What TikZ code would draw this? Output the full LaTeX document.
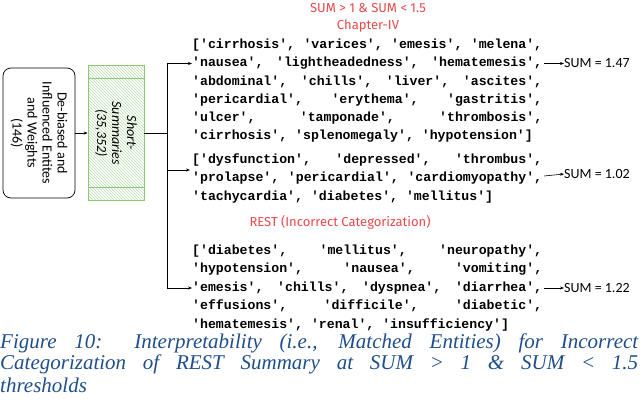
\documentclass[tikz,border=0pt]{standalone}
\usepackage{fontspec}
\setmainfont{Liberation Serif}
\newfontfamily\monof{Liberation Mono}
\newfontfamily\sansf{Carlito}
\newfontfamily\titf{Fira Sans}
\usetikzlibrary{patterns,arrows.meta}
\definecolor{capblue}{HTML}{1F4E8C}
\definecolor{tred}{HTML}{E8484A}
\definecolor{sgreen}{HTML}{8CC878}
\newcommand{\jline}[1]{\makebox[350pt][s]{#1}}
\begin{document}
\begin{tikzpicture}[x=1pt,y=-1pt,
  mono/.style={anchor=west,inner sep=0,font=\monof\bfseries\fontsize{13.2}{13.2}\selectfont},
  tit/.style={text=tred,font=\titf\fontsize{13}{13}\selectfont},
  sumt/.style={anchor=west,inner sep=0,font=\sansf\fontsize{14}{14}\selectfont},
  arr/.style={-{Stealth[length=4pt,width=3pt]},line width=0.6pt},
  captxt/.style={anchor=west,inner sep=0,text=capblue,font=\itshape\fontsize{21}{21}\selectfont}]
\useasboundingbox (0,0) rectangle (640,410);
\node[draw,rounded corners=8pt,line width=0.7pt,minimum width=72pt,minimum height=130pt] (a) at (39,133) {};
\node[rotate=-90,align=center,font=\sansf\fontsize{14}{15}\selectfont] at (a) {De-biased and\\Influenced Entites\\and Weights\\(146)};
\node[draw=sgreen,pattern=north west lines,pattern color=sgreen!60,minimum width=56pt,minimum height=135pt,line width=0.7pt] (g) at (116,133) {};
\draw[sgreen,line width=0.7pt] (88,78)--(144,78) (88,187)--(144,187);
\node[rotate=-90,align=center,font=\sansf\itshape\fontsize{14}{15}\selectfont] at (g) {Short-\\Summaries\\(35,352)};
\draw[arr] (a.east) -- (g.west);
\coordinate (j) at (167,133);
\draw[line width=0.6pt] (g.east) -- (j);
\node[tit] at (368,8) {SUM > 1 \& SUM < 1.5};
\node[tit] at (368,26) {Chapter-IV};
\node[mono] (l1) at (192,45) {\jline{['cirrhosis', 'varices', 'emesis', 'melena',}};
\node[mono] (l2) at (192,63.5) {\jline{'nausea', 'lightheadedness', 'hematemesis',}};
\node[mono] at (192,82) {\jline{'abdominal', 'chills', 'liver', 'ascites',}};
\node[mono] at (192,100) {\jline{'pericardial', 'erythema', 'gastritis',}};
\node[mono] at (192,118) {\jline{'ulcer', 'tamponade', 'thrombosis',}};
\node[mono] at (192,136) {\makebox[350pt][l]{'cirrhosis', 'splenomegaly', 'hypotension']}};
\node[mono] (m1) at (192,160) {\jline{['dysfunction', 'depressed', 'thrombus',}};
\node[mono] (m2) at (192,178.5) {\jline{'prolapse', 'pericardial', 'cardiomyopathy',}};
\node[mono] at (192,197) {\makebox[350pt][l]{'tachycardia', 'diabetes', 'mellitus']}};
\node[tit] at (340,222) {REST (Incorrect Categorization)};
\node[mono] at (192,251) {\jline{['diabetes', 'mellitus', 'neuropathy',}};
\node[mono] at (192,269) {\jline{'hypotension', 'nausea', 'vomiting',}};
\node[mono] (r3) at (192,288) {\jline{'emesis', 'chills', 'dyspnea', 'diarrhea',}};
\node[mono] at (192,306) {\jline{'effusions', 'difficile', 'diabetic',}};
\node[mono] at (192,325) {\makebox[350pt][l]{'hematemesis', 'renal', 'insufficiency']}};
\node[sumt] (s1) at (564,63.5) {SUM = 1.47};
\node[sumt] (s2) at (564,174) {SUM = 1.02};
\node[sumt] (s3) at (564,288) {SUM = 1.22};
\draw[line width=0.6pt] (167,63.5) -- (167,288);
\draw[arr] (167,63.5) -- (l2.west);
\draw[arr] (167,170) -- (190,170);
\draw[arr] (167,288) -- (r3.west);
\draw[arr] (544,63.5) -- (s1.west);
\draw[arr] (544,176) -- (s2.west);
\draw[arr] (544,288) -- (s3.west);
\node[captxt] at (0,343) {\makebox[638pt][s]{Figure 10: Interpretability (i.e., Matched Entities) for Incorrect}};
\node[captxt] at (0,364) {\makebox[638pt][s]{Categorization of REST Summary at SUM > 1 \& SUM < 1.5}};
\node[captxt] at (0,385) {thresholds};
\end{tikzpicture}
\end{document}
